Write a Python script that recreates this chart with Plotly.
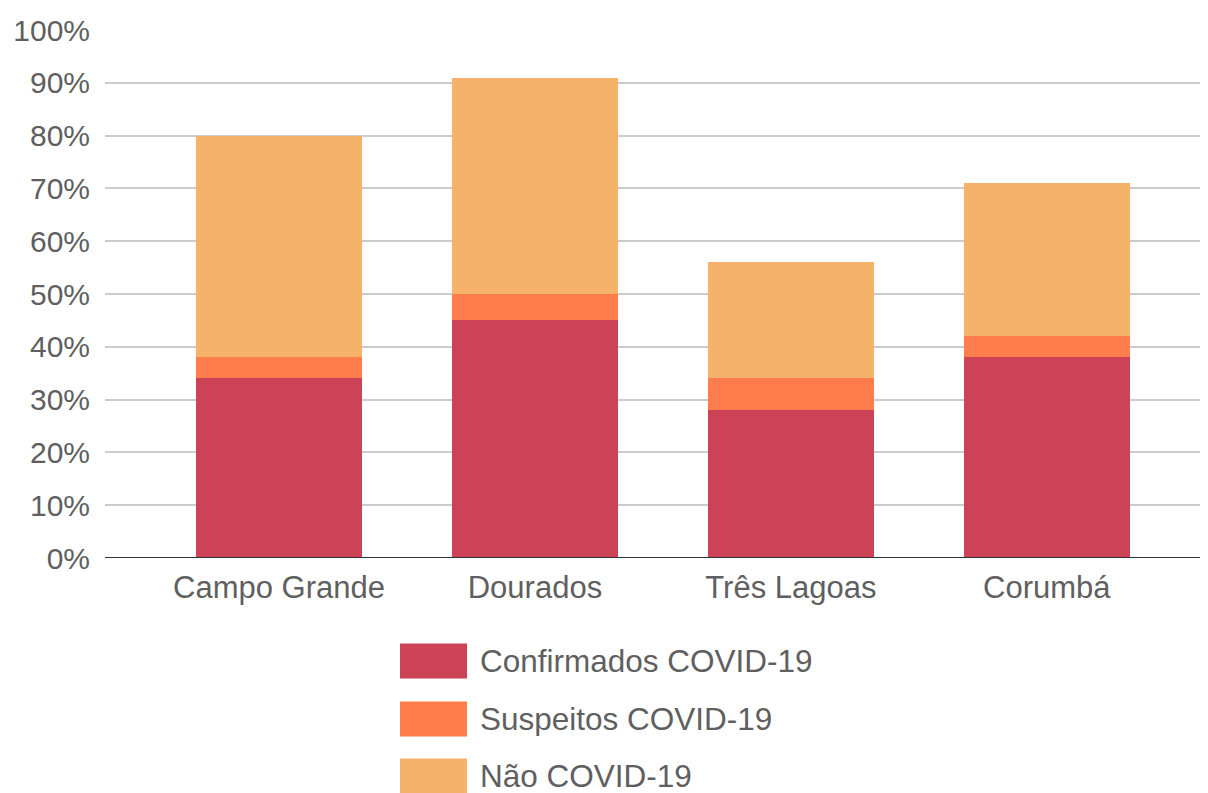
import plotly.graph_objects as go

categories = ["Campo Grande", "Dourados", "Três Lagoas", "Corumbá"]
confirmados = [34, 45, 28, 38]
suspeitos = [4, 5, 6, 4]
nao_covid = [42, 41, 22, 29]
series_names = ["Confirmados COVID-19", "Suspeitos COVID-19", "Não COVID-19"]
colors = ["#CC4257", "#FF7D4D", "#F6B26B"]
y_ticks = list(range(0, 101, 10))
y_tick_labels = [f"{v}%" for v in y_ticks]

FONT = "Liberation Sans, Arial, sans-serif"
TEXT = "#5f5f5f"

fig = go.Figure()
for name, vals, col in zip(series_names, [confirmados, suspeitos, nao_covid], colors):
    fig.add_trace(go.Bar(
        x=categories, y=vals, name=name,
        marker=dict(color=col, line=dict(width=0)),
        width=0.65, showlegend=False,
    ))

# plot area in screenshot pixels: x 105..1208, y 30..558
def px(xs):
    return (xs - 105) / 1103

def py(ys):
    return 1 - (ys - 30) / 528

# manual legend (large swatches)
legend_y = [661, 719, 776]
for name, col, yc in zip(series_names, colors, legend_y):
    fig.add_shape(type="rect", xref="paper", yref="paper",
                  x0=px(400), x1=px(467), y0=py(yc + 17.5), y1=py(yc - 17.5),
                  fillcolor=col, line=dict(width=0), layer="above")
    fig.add_annotation(xref="paper", yref="paper",
                       x=px(478), y=py(yc),
                       text=name, showarrow=False, xanchor="left", yanchor="middle",
                       height=34, valign="middle",
                       font=dict(family=FONT, size=31.5, color=TEXT))

fig.add_shape(type="line", xref="paper", yref="y", x0=0, x1=1, y0=0, y1=0,
              line=dict(color="#333333", width=2), layer="above")

fig.update_layout(
    barmode="stack",
    width=1200, height=785,
    margin=dict(l=97, r=0, t=22, b=235),
    plot_bgcolor="white", paper_bgcolor="white",
    font=dict(family=FONT, color=TEXT),
    xaxis=dict(
        range=[-0.68, 3.63], showgrid=False, showline=False, zeroline=False,
        tickfont=dict(size=31, color=TEXT), ticks="", ticklabelstandoff=8,
    ),
    yaxis=dict(
        range=[0, 100], tickvals=y_ticks, ticktext=y_tick_labels,
        showgrid=True, gridcolor="#cccccc", gridwidth=1.5,
        zeroline=False, showline=False,
        tickfont=dict(size=30, color=TEXT), ticks="", ticklabelstandoff=14,
        fixedrange=True,
    ),
)

fig.write_html("out.html")
